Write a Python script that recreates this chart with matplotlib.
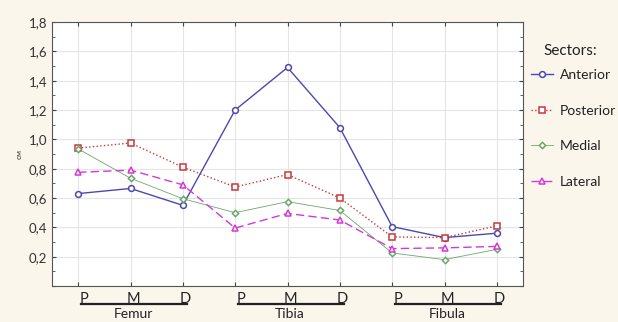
import matplotlib

matplotlib.use("Agg")
import matplotlib.pyplot as plt
from matplotlib.ticker import FuncFormatter, MultipleLocator

bones = ["Femur", "Tibia", "Fibula"]
parts = ["P", "M", "D"]

anterior = [0.63, 0.665, 0.55, 1.20, 1.49, 1.08, 0.405, 0.33, 0.36]
posterior = [0.94, 0.975, 0.81, 0.675, 0.76, 0.60, 0.335, 0.33, 0.41]
medial = [0.935, 0.735, 0.595, 0.50, 0.575, 0.515, 0.225, 0.18, 0.25]
lateral = [0.775, 0.79, 0.69, 0.395, 0.495, 0.45, 0.255, 0.26, 0.27]

series = [
    ("Anterior", anterior, "#4d48b0", "-", "o", 1.0),
    ("Posterior", posterior, "#c8383a", ":", "s", 1.0),
    ("Medial", medial, "#6aa86a", "-", "D", 0.6),
    ("Lateral", lateral, "#d23ad2", (0, (6, 3)), "^", 1.0),
]

plt.rcParams["font.family"] = ["Lato", "DejaVu Sans"]

fig = plt.figure(figsize=(6.18, 3.22), dpi=100, facecolor="#faf6ec")
ax = fig.add_axes([52 / 618, 1 - 286 / 322, 471 / 618, 264 / 322])
ax.set_facecolor("white")

x = list(range(len(bones) * len(parts)))
for name, vals, color, ls, mk, lw in series:
    ax.plot(
        x,
        vals,
        color=color,
        linestyle=ls,
        linewidth=lw,
        marker=mk,
        markersize=4.2 if mk != "D" else 3.2,
        markerfacecolor="white",
        markeredgecolor=color,
        markeredgewidth=1.1,
        label=name,
    )

ax.set_xlim(-0.5, 8.5)
ax.set_ylim(0.0, 1.8)
ax.set_xticks(x)
ax.set_xticklabels([])
ax.yaxis.set_major_locator(MultipleLocator(0.2))
ax.yaxis.set_minor_locator(MultipleLocator(0.1))
ax.yaxis.set_major_formatter(
    FuncFormatter(lambda v, _: "" if v < 0.1 else f"{v:.1f}".replace(".", ","))
)
ax.tick_params(direction="in", which="both", top=True, right=True, length=3,
               labelsize=9.5, colors="#444444", labelcolor="#333333")
ax.tick_params(which="minor", length=2)
ax.grid(True, color="#e4e4e4", linewidth=0.8)
for sp in ax.spines.values():
    sp.set_color("#555555")
    sp.set_linewidth(0.8)

ax.set_ylabel("см", fontsize=6, color="#333333", labelpad=4)

# category labels with group bars under the axis
trans = ax.get_xaxis_transform()
for g, bone in enumerate(bones):
    base = g * len(parts)
    for k, p in enumerate(parts):
        ax.text(base + k + (0.12 if k == 0 else 0.05), -0.022, p, transform=trans,
                ha="center", va="top", fontsize=10.5, color="#222222")
    ax.plot([base + 0.05, base + 2.08], [-0.068, -0.068], transform=trans,
            color="#222222", linewidth=1.6, clip_on=False)
    ax.text(base + 1.05, -0.082, bone, transform=trans, ha="center", va="top",
            fontsize=10, color="#222222")

fig.text(543 / 618, 1 - 51 / 322, "Sectors:", ha="left", va="center",
         fontsize=11, color="#222222")
leg = fig.legend(
    loc="upper left",
    bbox_to_anchor=(531 / 618, 1 - 69 / 322),
    frameon=False,
    fontsize=10,
    borderpad=0,
    borderaxespad=0,
    handlelength=1.6,
    handletextpad=0.45,
    labelspacing=1.7,
)
for t in leg.get_texts():
    t.set_color("#222222")

fig.savefig("out.png", dpi=100, facecolor=fig.get_facecolor())
